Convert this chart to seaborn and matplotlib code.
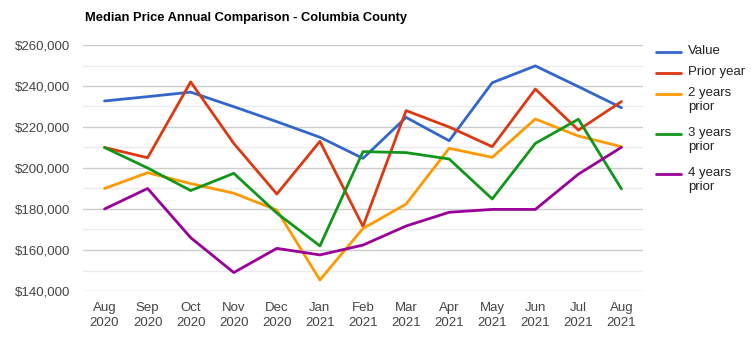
import matplotlib
matplotlib.use("Agg")
import matplotlib.pyplot as plt
import seaborn as sns
import pandas as pd
from matplotlib.lines import Line2D
from matplotlib.ticker import MultipleLocator, FuncFormatter

months = ["Aug\n2020", "Sep\n2020", "Oct\n2020", "Nov\n2020", "Dec\n2020", "Jan\n2021",
          "Feb\n2021", "Mar\n2021", "Apr\n2021", "May\n2021", "Jun\n2021", "Jul\n2021", "Aug\n2021"]
series_names = ["Value", "Prior year", "2 years prior", "3 years prior", "4 years prior"]
legend_labels = ["Value", "Prior year", "2 years\nprior", "3 years\nprior", "4 years\nprior"]
value = [232700, 234800, 237000, 229900, 222600, 215000, 204700, 224700, 213300, 241600, 249800, 239700, 229400]
prior_year = [210000, 205000, 242000, 212000, 187300, 213000, 171500, 228000, 220000, 210400, 238500, 218500, 232400]
two_years = [190000, 197700, 192400, 187700, 179500, 145400, 170500, 182400, 209600, 205200, 223900, 215600, 210400]
three_years = [210000, 200000, 189000, 197400, 178000, 162000, 208000, 207500, 204400, 184900, 212000, 223800, 189800]
four_years = [180000, 190000, 166000, 149000, 160800, 157600, 162400, 171700, 178400, 179800, 179800, 197000, 210100]
colors = ["#3366cc", "#dc3912", "#ff9900", "#109618", "#990099"]

all_series = [value, prior_year, two_years, three_years, four_years]
rows = []
for name, vals in zip(series_names, all_series):
    for i, v in enumerate(vals):
        rows.append({"x": i, "price": v, "series": name})
df = pd.DataFrame(rows)

sns.set_theme(style="white")
plt.rcParams['font.family'] = ['Liberation Sans', 'DejaVu Sans']

fig = plt.figure(figsize=(7.55, 3.42), dpi=100)
W, H = 755, 342
ax = fig.add_axes([83 / W, 1 - 291 / H, (643 - 83) / W, (291 - 45) / H])

sns.lineplot(data=df, x="x", y="price", hue="series", hue_order=series_names,
             palette=colors, linewidth=2, legend=False, ax=ax)

ax.set_xlim(-0.5, 12.5)
ax.set_ylim(140000, 260000)
ax.yaxis.set_major_locator(MultipleLocator(20000))
ax.yaxis.set_minor_locator(MultipleLocator(10000))
ax.yaxis.set_major_formatter(FuncFormatter(lambda v, p: "${:,.0f}".format(v)))
ax.set_xticks(range(len(months)))
ax.set_xticklabels(months, linespacing=1.3)
ax.grid(True, which="major", axis="y", color="#cccccc", linewidth=1)
ax.grid(True, which="minor", axis="y", color="#ebebeb", linewidth=1)
ax.set_axisbelow(True)
for s in ax.spines.values():
    s.set_visible(False)
ax.tick_params(axis="both", which="both", length=0, labelsize=9.5, colors="#444444")
ax.tick_params(axis="y", pad=9)
ax.tick_params(axis="x", pad=8)
ax.set_xlabel("")
ax.set_ylabel("")

fig.text(85 / W, 1 - 18 / H, "Median Price Annual Comparison - Columbia County",
         fontsize=9.3, fontweight="bold", color="#000000", va="center", ha="left")

# Legend (manual, Google-charts style)
leg_y = [52, 73, 94, 134, 174]
for lbl, c, y in zip(legend_labels, colors, leg_y):
    fig.add_artist(Line2D([656 / W, 681 / W], [1 - y / H, 1 - y / H], color=c, linewidth=2))
    fig.text(688 / W, 1 - (y - 7) / H, lbl, fontsize=9.5, color="#222222",
             va="top", ha="left", linespacing=1.25)

fig.savefig("out.png", dpi=100)
